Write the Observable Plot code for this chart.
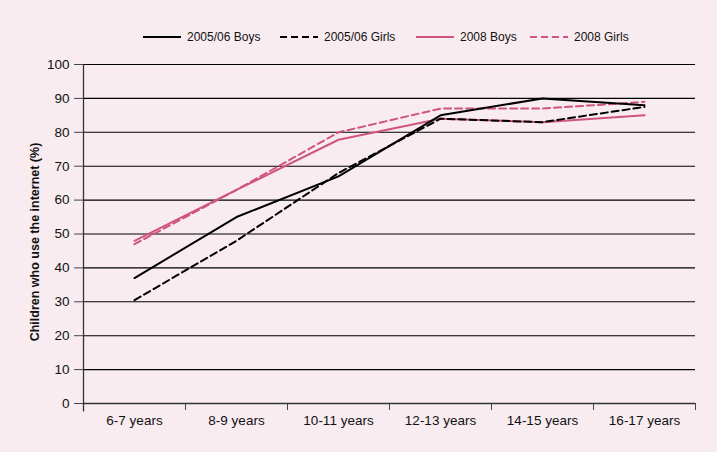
<!DOCTYPE html>
<html>
<head>
<meta charset="utf-8">
<script src="https://cdn.jsdelivr.net/npm/d3@7"></script>
<script src="https://cdn.jsdelivr.net/npm/@observablehq/plot@0.6"></script>
<style>
  html, body { margin: 0; padding: 0; background: #f8ecf0; }
  body { width: 717px; height: 452px; overflow: hidden; font-family: Arial, "Liberation Sans", sans-serif; }
  #legend { position: relative; width: 717px; height: 50px; font-size: 12px; color: #111; }
  .item { position: absolute; top: 29px; height: 16px; display: flex; align-items: center; white-space: nowrap; }
  .item svg { margin-right: 6px; }
</style>
</head>
<body>
<div id="legend"></div>
<div id="chart"></div>
<script>
const categories = ["6-7 years", "8-9 years", "10-11 years", "12-13 years", "14-15 years", "16-17 years"];
const boys0506  = [37, 55, 67, 85, 90, 88];
const girls0506 = [30.5, 48, 68, 84, 83, 87.5];
const boys2008  = [48, 63, 77.8, 84, 83, 85];
const girls2008 = [47, 63, 80, 87, 87, 89];
const yTicks = [0, 10, 20, 30, 40, 50, 60, 70, 80, 90, 100];
const seriesNames = ["2005/06 Boys", "2005/06 Girls", "2008 Boys", "2008 Girls"];

const PINK = "#cf5480";
const styles = [
  {stroke: "#000", dash: null, lx: 143},
  {stroke: "#000", dash: "7,4", lx: 280},
  {stroke: PINK, dash: null, lx: 416},
  {stroke: PINK, dash: "7,4", lx: 530}
];
const seriesValues = [boys0506, girls0506, boys2008, girls2008];

// legend
const legend = document.getElementById("legend");
seriesNames.forEach((name, i) => {
  const s = styles[i];
  const div = document.createElement("div");
  div.className = "item";
  div.style.left = s.lx + "px";
  div.innerHTML = `<svg width="38" height="6"><line x1="0" x2="38" y1="3" y2="3" stroke="${s.stroke}" stroke-width="2" ${s.dash ? `stroke-dasharray="${s.dash}"` : ""}/></svg><span>${name}</span>`;
  legend.appendChild(div);
});

const toData = vals => vals.map((v, i) => ({x: i + 0.5, y: v}));
const boundaries = d3.range(0, categories.length + 1);
const centers = categories.map((c, i) => i + 0.5);

const lineMarks = [3, 2, 1, 0].map(i =>
  Plot.line(toData(seriesValues[i]), {
    x: "x", y: "y",
    stroke: styles[i].stroke,
    strokeWidth: 2,
    strokeDasharray: styles[i].dash ?? undefined
  })
);

const chart = Plot.plot({
  width: 717,
  height: 402,
  marginLeft: 83,
  marginRight: 22,
  marginTop: 14,
  marginBottom: 49,
  style: {background: "transparent", fontFamily: "Arial, 'Liberation Sans', sans-serif", fontSize: "13px", color: "#111"},
  x: {domain: [0, categories.length]},
  y: {domain: [0, 100]},
  marks: [
    Plot.ruleY(yTicks.filter(d => d > 0), {stroke: "#000", strokeWidth: 1.1}),
    ...lineMarks,
    Plot.axisY({ticks: yTicks, tickSize: 9, tickPadding: 5, label: null, fontSize: 13.5, stroke: "#444"}),
    Plot.axisX({ticks: boundaries, tickSize: 7, tickFormat: () => "", label: null, stroke: "#444"}),
    Plot.axisX({ticks: centers, tickSize: 0, tickPadding: 12, tickFormat: d => categories[Math.round(d - 0.5)], label: null, fontSize: 13.5}),
    Plot.ruleY([0], {stroke: "#333", strokeWidth: 1.3}),
    Plot.ruleX([0], {y1: -2.5, y2: 100, stroke: "#333", strokeWidth: 1.3}),
    Plot.text(["Children who use the internet (%)"], {
      frameAnchor: "left", textAnchor: "middle", dx: -49, dy: 8, rotate: -90,
      fontWeight: "bold", fontSize: 12.5, fill: "#111"
    })
  ]
});
document.getElementById("chart").appendChild(chart);
</script>
</body>
</html>
